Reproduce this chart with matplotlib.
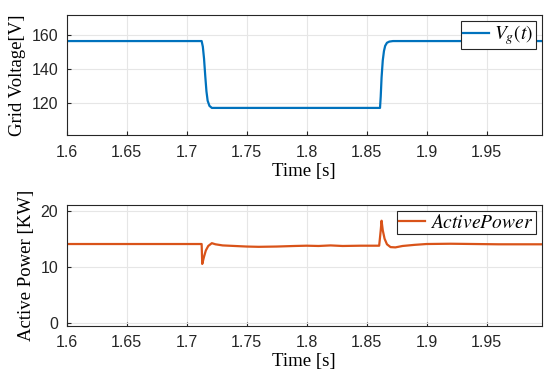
import matplotlib.pyplot as plt

# grid voltage samples
t_v = [1.6, 1.7125, 1.7135, 1.7145, 1.7155, 1.7165, 1.7175, 1.719, 1.721, 1.8612,
       1.8618, 1.8625, 1.8635, 1.8645, 1.8655, 1.867, 1.869, 1.872, 1.996]
v_g = [156.3, 156.3, 153.0, 146.0, 136.0, 127.0, 121.5, 118.5, 117.3, 117.3,
       124.0, 135.0, 145.0, 150.5, 153.5, 155.3, 156.0, 156.3, 156.3]

# active power samples
t_p = [1.6, 1.7125, 1.713, 1.7145, 1.716, 1.718, 1.721, 1.724, 1.73, 1.74, 1.75,
       1.76, 1.775, 1.79, 1.80, 1.81, 1.82, 1.83, 1.845, 1.8605, 1.8618, 1.8625,
       1.8635, 1.865, 1.867, 1.87, 1.874, 1.88, 1.89, 1.90, 1.92, 1.94, 1.96, 1.996]
p_a = [14.05, 14.05, 10.5, 11.8, 12.9, 13.7, 14.2, 14.0, 13.8, 13.7, 13.6,
       13.55, 13.6, 13.7, 13.75, 13.7, 13.8, 13.7, 13.75, 13.75, 16.5, 18.2,
       16.5, 15.0, 14.0, 13.5, 13.45, 13.7, 13.9, 14.05, 14.1, 14.05, 14.0, 14.0]

xticks = [1.6, 1.65, 1.7, 1.75, 1.8, 1.85, 1.9, 1.95]
xticklabels = ["1.6", "1.65", "1.7", "1.75", "1.8", "1.85", "1.9", "1.95"]

plt.rcParams['mathtext.fontset'] = 'stix'

fig = plt.figure(figsize=(5.5, 3.82), dpi=100)
ax1 = fig.add_axes([66.7 / 550, 1 - 135 / 382, 475 / 550, 120 / 382])
ax2 = fig.add_axes([66.7 / 550, 1 - 325.7 / 382, 475 / 550, 120.7 / 382])

serif = {'family': 'Liberation Serif', 'size': 13.5}


def style_legend(ax):
    leg = ax.legend(loc='upper right', fontsize=14, fancybox=False, framealpha=1,
                    edgecolor='#262626', borderpad=0.12, handlelength=1.3,
                    handletextpad=0.3, borderaxespad=0.3)
    leg.get_frame().set_linewidth(0.8)
    return leg


for ax in (ax1, ax2):
    ax.set_xlim(1.6, 1.996)
    ax.set_xticks(xticks)
    ax.set_xticklabels(xticklabels)
    ax.grid(True, color='#e6e6e6', linewidth=0.8)
    ax.set_axisbelow(True)
    ax.tick_params(labelsize=11.5, direction='in', length=3, color='#262626',
                   labelcolor='#262626')
    ax.tick_params(axis='x', pad=7)
    ax.tick_params(axis='y', pad=6)
    for lab in ax.get_xticklabels() + ax.get_yticklabels():
        lab.set_family('Liberation Sans')
    for s in ax.spines.values():
        s.set_color('#262626')
        s.set_linewidth(0.8)
    ax.set_xlabel("Time [s]", fontdict=serif, labelpad=2)

ax1.plot(t_v, v_g, color='#0072BD', linewidth=1.6, label=r'$V_g(t)$')
ax1.set_ylim(101.5, 171.5)
ax1.set_yticks([120, 140, 160])
ax1.set_ylabel("Grid Voltage[V]", fontdict=serif, labelpad=4)
style_legend(ax1)

ax2.plot(t_p, p_a, color='#D95319', linewidth=1.6, label=r'$Active Power$')
ax2.set_ylim(-0.5, 21)
ax2.set_yticks([0, 10, 20])
ax2.set_ylabel("Active Power [KW]", fontdict=serif, labelpad=4)
style_legend(ax2)

fig.savefig("out.png", dpi=100)
